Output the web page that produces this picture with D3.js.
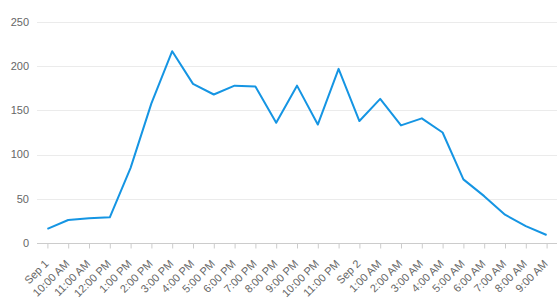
<!DOCTYPE html>
<html>
<head>
<meta charset="utf-8">
<script src="https://cdn.jsdelivr.net/npm/d3@7"></script>
<style>
  body { margin: 0; background: #fff; }
  text { font-family: "Liberation Sans", Arial, sans-serif; font-size: 11px; fill: #666; }
</style>
</head>
<body>
<div id="chart"></div>
<script>
// hourly values, Sep 1 9:00 AM .. Sep 2 9:00 AM
const categories = ["Sep 1", "10:00 AM", "11:00 AM", "12:00 PM", "1:00 PM", "2:00 PM", "3:00 PM",
  "4:00 PM", "5:00 PM", "6:00 PM", "7:00 PM", "8:00 PM", "9:00 PM", "10:00 PM", "11:00 PM",
  "Sep 2", "1:00 AM", "2:00 AM", "3:00 AM", "4:00 AM", "5:00 AM", "6:00 AM", "7:00 AM", "8:00 AM", "9:00 AM"];
const values = [16, 26, 28, 29, 85, 158, 217, 180, 168, 178, 177, 136, 178, 134, 197,
  138, 163, 133, 141, 125, 72, 53, 32, 19, 9];
const yTicks = [0, 50, 100, 150, 200, 250];

const width = 558, height = 306;
const margin = {top: 22, right: 1, bottom: 63, left: 37};

const svg = d3.select("#chart").append("svg")
  .attr("width", width)
  .attr("height", height);

const x = d3.scalePoint()
  .domain(categories)
  .range([margin.left, width - margin.right])
  .padding(0.5);

const y = d3.scaleLinear()
  .domain([0, 250])
  .range([height - margin.bottom, margin.top]);

// grid lines
svg.append("g")
  .selectAll("line")
  .data(yTicks.filter(d => d > 0))
  .enter().append("line")
  .attr("x1", margin.left)
  .attr("x2", width - margin.right)
  .attr("y1", d => Math.round(y(d)) + 0.5)
  .attr("y2", d => Math.round(y(d)) + 0.5)
  .attr("stroke", "#ebebeb");

// y labels
svg.append("g")
  .selectAll("text")
  .data(yTicks)
  .enter().append("text")
  .attr("x", 29)
  .attr("y", d => y(d))
  .attr("dy", "0.35em")
  .attr("text-anchor", "end")
  .text(d => d);

// x axis
const xAxis = svg.append("g")
  .attr("transform", `translate(0,${Math.round(y(0)) + 0.5})`)
  .call(d3.axisBottom(x).tickSize(5).tickSizeOuter(0));

xAxis.attr("font-family", null).attr("font-size", null);
xAxis.select(".domain")
  .attr("stroke", "#ccc")
  .attr("d", `M${margin.left},0H${width - margin.right}`);
xAxis.selectAll(".tick line").attr("stroke", "#ccc");
xAxis.selectAll(".tick text")
  .attr("fill", null)
  .attr("text-anchor", "end")
  .attr("y", 0)
  .attr("dy", 0)
  .attr("transform", "translate(1.5,21) rotate(-45)");

// line
const line = d3.line()
  .x((d, i) => x(categories[i]))
  .y(d => y(d));

svg.append("path")
  .datum(values)
  .attr("fill", "none")
  .attr("stroke", "#1595e3")
  .attr("stroke-width", 2)
  .attr("stroke-linejoin", "round")
  .attr("d", line);
</script>
</body>
</html>
